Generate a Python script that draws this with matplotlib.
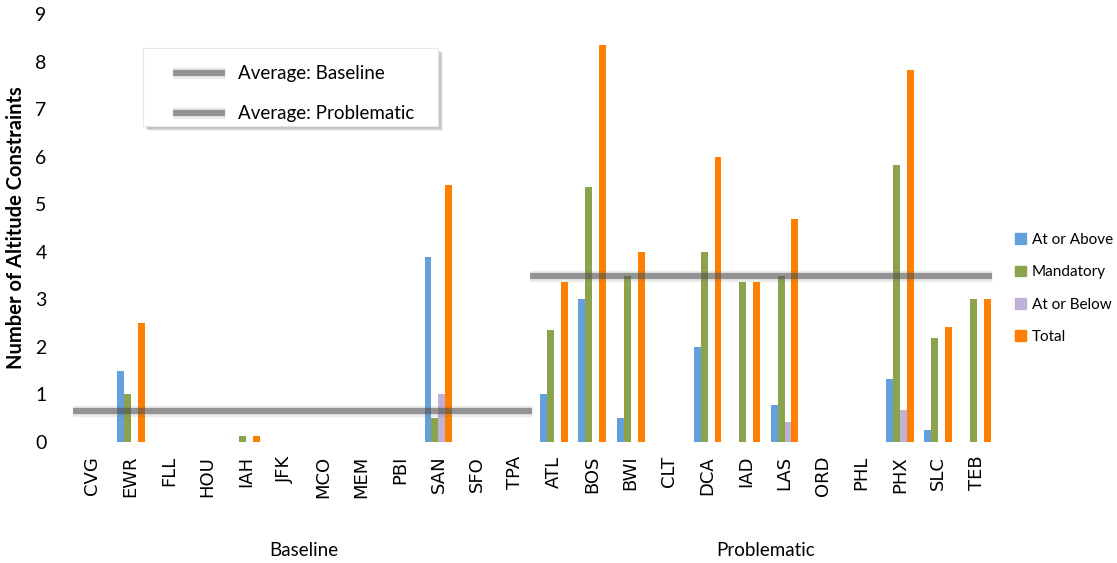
"""Altitude constraints per airport, baseline vs problematic groups."""
import matplotlib
matplotlib.use("Agg")
import matplotlib.pyplot as plt
import numpy as np
from matplotlib.lines import Line2D
from matplotlib.patches import Patch, Rectangle
from matplotlib.transforms import blended_transform_factory

airports = ["CVG", "EWR", "FLL", "HOU", "IAH", "JFK", "MCO", "MEM", "PBI", "SAN", "SFO", "TPA",
            "ATL", "BOS", "BWI", "CLT", "DCA", "IAD", "LAS", "ORD", "PHL", "PHX", "SLC", "TEB"]
groups = ["Baseline", "Problematic"]
group_size = 12

at_or_above = [0, 1.5, 0, 0, 0, 0, 0, 0, 0, 3.9, 0, 0,
               1.0, 3.0, 0.5, 0, 2.0, 0, 0.78, 0, 0, 1.33, 0.25, 0]
mandatory = [0, 1.0, 0, 0, 0.12, 0, 0, 0, 0, 0.5, 0, 0,
             2.36, 5.36, 3.5, 0, 4.0, 3.36, 3.5, 0, 0, 5.83, 2.18, 3.0]
at_or_below = [0, 0, 0, 0, 0, 0, 0, 0, 0, 1.0, 0, 0,
               0, 0, 0, 0, 0, 0, 0.42, 0, 0, 0.67, 0, 0]
total = [0, 2.5, 0, 0, 0.12, 0, 0, 0, 0, 5.4, 0, 0,
         3.36, 8.36, 4.0, 0, 6.0, 3.36, 4.7, 0, 0, 7.83, 2.42, 3.0]

avg_baseline = 0.65
avg_problematic = 3.5
avg_labels = ["Average: Baseline", "Average: Problematic"]

series = [("At or Above", at_or_above, "#64a0dc"),
          ("Mandatory", mandatory, "#8ca34e"),
          ("At or Below", at_or_below, "#bfb1d3"),
          ("Total", total, "#ff7f00")]

W, H = 1117, 563
fig = plt.figure(figsize=(W / 100, H / 100), dpi=100)
ax = fig.add_axes([0.0654, 0.215, 0.8263, 0.76])

x = np.arange(len(airports))
w = 0.18
for i, (name, vals, color) in enumerate(series):
    ax.bar(x + (i - 1.5) * w, vals, width=w, color=color, linewidth=0)


def blurred_line(target, xs, ys, **kw):
    # two stacked strokes fake the soft shadowed line of the original
    target.add_artist(Line2D(xs, ys, color="0.45", lw=8, alpha=0.15, solid_capstyle="butt", zorder=3, **kw))
    target.add_artist(Line2D(xs, ys, color="0.3", lw=4.5, alpha=0.55, solid_capstyle="butt", zorder=3, **kw))


# grey average lines
for xs, val in [((-0.75, 11.43), avg_baseline), ((11.38, 23.4), avg_problematic)]:
    blurred_line(ax, xs, [val, val])

ax.set_xlim(-0.5, len(airports) - 0.5)
ax.set_ylim(0, 9)
ax.set_yticks(range(10))
ax.set_yticklabels([str(v) for v in range(10)], fontsize=14, family="Lato")
ax.set_xticks(x)
ax.set_xticklabels(airports, rotation=90, fontsize=13, family="DejaVu Sans")
ax.tick_params(length=0, axis="y", pad=19)
ax.tick_params(length=0, axis="x", pad=10)
for s in ax.spines.values():
    s.set_visible(False)

ax.set_ylabel("Number of Altitude Constraints", fontsize=14.5, fontweight="bold",
              family="Lato", labelpad=7)

trans = blended_transform_factory(ax.transData, fig.transFigure)
for gi, g in enumerate(groups):
    cx = gi * group_size + (group_size - 1) / 2
    ax.text(cx, 1 - 550 / H, g, transform=trans, ha="center", va="center",
            fontsize=13.5, family="Lato")

# boxed legend for the average lines, with a soft shadow
bx0, by0, bx1, by1 = 143, 48, 438, 126
for off, a in [(5, 0.10), (4, 0.15), (3, 0.2)]:
    fig.add_artist(Rectangle(((bx0 + off) / W, 1 - (by1 + off) / H), (bx1 - bx0) / W, (by1 - by0) / H,
                             transform=fig.transFigure, facecolor="0.4", edgecolor="none", alpha=a))
fig.add_artist(Rectangle((bx0 / W, 1 - by1 / H), (bx1 - bx0) / W, (by1 - by0) / H,
                         transform=fig.transFigure, facecolor="white", edgecolor="#e8e8e8", lw=0.8))
for row, lab in zip([73, 113], avg_labels):
    blurred_line(fig, [173 / W, 225 / W], [1 - row / H] * 2, transform=fig.transFigure)
    fig.text(238 / W, 1 - row / H, lab, ha="left", va="center", fontsize=13.5, family="Lato")

patch_handles = [Patch(color=c) for _, _, c in series]
fig.legend(patch_handles, [n for n, _, _ in series], loc="upper left",
           bbox_to_anchor=(1015 / W, 1 - 233 / H), frameon=False,
           prop={"family": "Lato", "size": 11}, handlelength=0.7, handleheight=0.7,
           handletextpad=0.4, labelspacing=1.2, borderpad=0, borderaxespad=0)

fig.savefig("out.png", dpi=100)
